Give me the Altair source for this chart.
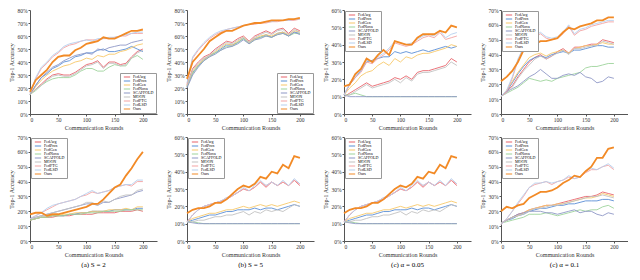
import altair as alt
import pandas as pd

ROUNDS = list(range(0, 201, 10))
METHODS = ["FedAvg", "FedProx", "FedGen", "FedNova", "SCAFFOLD", "MOON", "FedFTG", "FedLSD", "Ours"]
COLORS = ["#e8636b", "#5b8fd6", "#f7c86a", "#9ed49c", "#8e97c6", "#c2c2c2", "#f3a3a3", "#b6d0ee", "#f28a26"]
X_TICKS = [0, 50, 100, 150, 200]

# ---- top row ----
TOP_A = {
    "Ours":     [17, 26, 30, 34, 40, 44, 45, 45, 49, 51, 54, 55, 56, 59, 58, 58, 60, 62, 64, 64, 65],
    "FedLSD":   [16, 28, 36, 40, 45, 48, 52, 54, 55, 56, 57, 56, 58, 58, 59, 59, 60, 61, 62, 63, 63],
    "FedFTG":   [16, 27, 35, 39, 44, 47, 51, 53, 54, 56, 57, 57, 57, 58, 58, 59, 60, 60, 62, 62, 62],
    "SCAFFOLD": [15, 22, 28, 32, 36, 38, 41, 43, 45, 46, 47, 46, 50, 49, 51, 52, 53, 53, 55, 56, 57],
    "FedGen":   [15, 21, 26, 30, 33, 35, 37, 38, 40, 41, 43, 42, 45, 44, 46, 46, 48, 49, 51, 53, 54],
    "FedProx":  [15, 22, 28, 31, 35, 37, 40, 41, 44, 45, 47, 47, 49, 50, 48, 48, 49, 50, 52, 50, 48],
    "FedAvg":   [15, 19, 23, 27, 30, 31, 30, 30, 32, 35, 38, 39, 41, 36, 40, 40, 38, 39, 44, 48, 50],
    "MOON":     [15, 19, 22, 26, 29, 30, 29, 29, 31, 34, 37, 38, 40, 35, 39, 39, 37, 38, 43, 47, 49],
    "FedNova":  [15, 18, 22, 25, 27, 28, 28, 28, 30, 33, 35, 35, 33, 33, 36, 38, 37, 37, 43, 45, 42],
}
TOP_B = {
    "Ours":     [27, 40, 45, 50, 56, 59, 62, 64, 64, 66, 68, 69, 70, 70, 71, 72, 72, 72, 73, 73, 74],
    "FedLSD":   [24, 44, 50, 55, 59, 62, 64, 65, 66, 67, 68, 69, 70, 70, 71, 71, 72, 72, 72, 73, 73],
    "FedFTG":   [23, 43, 49, 54, 58, 61, 63, 65, 66, 67, 68, 69, 69, 70, 70, 71, 71, 72, 72, 72, 73],
    "FedAvg":   [22, 35, 40, 44, 46, 50, 53, 56, 55, 58, 60, 56, 60, 62, 64, 62, 65, 66, 62, 66, 64],
    "MOON":     [22, 34, 39, 43, 45, 49, 52, 55, 54, 57, 59, 55, 59, 61, 63, 61, 64, 65, 61, 65, 63],
    "FedGen":   [22, 33, 38, 42, 45, 48, 51, 54, 53, 56, 59, 55, 58, 60, 61, 60, 62, 63, 61, 64, 63],
    "FedProx":  [21, 32, 37, 42, 45, 47, 50, 53, 53, 55, 58, 55, 58, 59, 61, 59, 62, 63, 60, 63, 62],
    "FedNova":  [21, 31, 37, 41, 44, 47, 49, 52, 52, 55, 58, 54, 57, 59, 60, 59, 61, 62, 60, 62, 62],
    "SCAFFOLD": [20, 30, 36, 41, 44, 46, 49, 51, 52, 54, 57, 54, 57, 58, 60, 59, 61, 62, 60, 63, 61],
}
TOP_C = {
    "Ours":     [16, 17, 23, 26, 32, 30, 34, 37, 34, 42, 41, 40, 40, 44, 46, 46, 46, 48, 47, 51, 50],
    "FedLSD":   [11, 18, 22, 25, 31, 30, 33, 35, 38, 42, 41, 40, 41, 43, 45, 46, 45, 48, 44, 46, 47],
    "FedFTG":   [11, 17, 21, 24, 30, 29, 32, 34, 37, 41, 40, 39, 40, 42, 44, 45, 44, 47, 43, 44, 45],
    "FedProx":  [11, 17, 21, 25, 30, 31, 32, 33, 33, 36, 35, 36, 35, 36, 37, 36, 37, 38, 39, 38, 39],
    "FedGen":   [11, 15, 18, 22, 24, 25, 28, 30, 28, 32, 30, 33, 32, 34, 35, 35, 36, 37, 38, 40, 39],
    "FedAvg":   [10, 12, 14, 16, 18, 16, 17, 18, 19, 21, 20, 22, 20, 24, 25, 25, 26, 27, 28, 32, 30],
    "MOON":     [10, 11, 13, 15, 17, 15, 16, 17, 18, 20, 18, 21, 19, 23, 24, 24, 25, 26, 27, 30, 28],
    "FedNova":  [11, 11, 12, 11, 10, 10, 10, 10, 10, 10, 10, 10, 10, 10, 10, 10, 10, 10, 10, 10, 10],
    "SCAFFOLD": [11, 10, 10, 10, 10, 10, 10, 10, 10, 10, 10, 10, 10, 10, 10, 10, 10, 10, 10, 10, 10],
}
TOP_D = {
    "Ours":     [22, 25, 29, 35, 43, 46, 47, 49, 49, 50, 51, 55, 58, 57, 59, 60, 61, 63, 63, 65, 65],
    "FedLSD":   [12, 16, 25, 37, 45, 50, 53, 55, 52, 51, 52, 55, 60, 54, 57, 58, 60, 61, 62, 63, 63],
    "FedFTG":   [12, 15, 24, 36, 44, 49, 52, 54, 51, 50, 51, 54, 59, 53, 56, 57, 59, 60, 61, 62, 62],
    "FedAvg":   [12, 15, 19, 25, 30, 35, 38, 40, 37, 39, 42, 44, 41, 45, 45, 46, 47, 47, 50, 49, 48],
    "FedGen":   [12, 16, 22, 28, 33, 38, 40, 41, 39, 41, 42, 43, 41, 44, 45, 46, 46, 47, 48, 47, 47],
    "FedProx":  [12, 15, 21, 27, 32, 36, 38, 39, 38, 40, 41, 42, 41, 43, 43, 44, 45, 46, 46, 45, 45],
    "MOON":     [12, 14, 18, 24, 29, 33, 37, 39, 37, 39, 41, 43, 40, 44, 44, 45, 46, 46, 49, 48, 47],
    "FedNova":  [12, 14, 16, 18, 21, 24, 23, 22, 23, 22, 24, 25, 26, 27, 28, 31, 32, 32, 33, 34, 34],
    "SCAFFOLD": [12, 15, 17, 19, 22, 25, 27, 30, 27, 24, 24, 26, 27, 26, 28, 25, 24, 21, 22, 25, 24],
}

# ---- bottom row ----
BOT_A = {
    "Ours":     [18, 19, 19, 17, 18, 18, 19, 20, 21, 22, 23, 25, 25, 28, 32, 36, 38, 44, 49, 55, 60],
    "FedLSD":   [15, 17, 19, 22, 24, 25, 26, 27, 28, 30, 32, 34, 32, 33, 34, 36, 37, 38, 38, 41, 41],
    "FedFTG":   [15, 17, 19, 21, 23, 25, 26, 27, 28, 30, 31, 33, 32, 33, 34, 36, 37, 38, 37, 40, 40],
    "MOON":     [15, 16, 17, 18, 19, 20, 21, 22, 23, 24, 26, 26, 24, 27, 26, 28, 30, 31, 31, 34, 35],
    "SCAFFOLD": [15, 16, 17, 18, 19, 20, 21, 22, 23, 24, 25, 25, 24, 26, 26, 28, 29, 30, 31, 33, 34],
    "FedGen":   [14, 15, 16, 16, 17, 17, 18, 18, 19, 19, 19, 20, 20, 20, 21, 21, 21, 22, 21, 23, 23],
    "FedProx":  [14, 15, 16, 16, 17, 17, 17, 18, 18, 19, 19, 20, 20, 20, 20, 21, 21, 21, 21, 22, 22],
    "FedNova":  [14, 15, 16, 16, 17, 17, 17, 18, 18, 18, 19, 19, 19, 20, 20, 20, 20, 21, 21, 21, 21],
    "FedAvg":   [14, 15, 16, 16, 16, 17, 17, 17, 18, 18, 18, 18, 19, 19, 19, 19, 20, 20, 20, 21, 20],
}
BOT_B = {
    "Ours":     [16, 18, 19, 19, 20, 22, 22, 24, 27, 30, 32, 31, 33, 37, 36, 40, 39, 44, 42, 49, 48],
    "FedLSD":   [11, 15, 18, 20, 21, 22, 23, 25, 26, 28, 31, 29, 32, 35, 32, 34, 32, 35, 32, 36, 33],
    "FedFTG":   [11, 15, 18, 20, 21, 22, 23, 25, 26, 28, 30, 29, 31, 34, 32, 34, 32, 34, 32, 35, 33],
    "FedAvg":   [11, 15, 18, 20, 21, 22, 23, 24, 26, 28, 30, 29, 31, 34, 31, 34, 32, 34, 32, 35, 32],
    "FedGen":   [11, 13, 14, 15, 16, 16, 17, 18, 18, 19, 20, 19, 20, 21, 20, 21, 20, 21, 22, 23, 22],
    "FedProx":  [11, 12, 13, 14, 15, 15, 16, 17, 17, 18, 18, 18, 19, 18, 19, 19, 18, 19, 20, 21, 20],
    "MOON":     [11, 11, 12, 12, 13, 14, 14, 15, 15, 16, 17, 15, 17, 16, 18, 17, 18, 17, 19, 21, 20],
    "FedNova":  [11, 11, 10.5, 10, 10, 10, 10, 10, 10, 10, 10, 10, 10, 10, 10, 10, 10, 10, 10, 10, 10],
    "SCAFFOLD": [11, 10.5, 10, 10, 10, 10, 10, 10, 10, 10, 10, 10, 10, 10, 10, 10, 10, 10, 10, 10, 10],
}
BOT_C = {
    "Ours":     [16, 18, 19, 19, 20, 22, 22, 24, 27, 30, 32, 31, 33, 37, 36, 40, 39, 44, 42, 49, 48],
    "FedLSD":   [11, 15, 18, 20, 21, 22, 23, 25, 26, 28, 31, 29, 32, 35, 32, 34, 32, 35, 32, 36, 33],
    "FedFTG":   [11, 15, 18, 20, 21, 22, 23, 25, 26, 28, 30, 29, 31, 34, 32, 34, 32, 34, 32, 35, 33],
    "FedAvg":   [11, 15, 18, 20, 21, 22, 23, 24, 26, 28, 30, 29, 31, 34, 31, 34, 32, 34, 32, 35, 32],
    "FedGen":   [11, 13, 14, 15, 16, 16, 17, 18, 18, 19, 20, 19, 20, 21, 20, 21, 20, 21, 22, 23, 22],
    "FedProx":  [11, 12, 13, 14, 15, 15, 16, 17, 17, 18, 18, 18, 19, 18, 19, 19, 18, 19, 20, 21, 20],
    "MOON":     [11, 11, 12, 12, 13, 14, 14, 15, 15, 16, 17, 15, 17, 16, 18, 17, 18, 17, 19, 21, 20],
    "FedNova":  [11, 11, 10.5, 10, 10, 10, 10, 10, 10, 10, 10, 10, 10, 10, 10, 10, 10, 10, 10, 10, 10],
    "SCAFFOLD": [11, 10.5, 10, 10, 10, 10, 10, 10, 10, 10, 10, 10, 10, 10, 10, 10, 10, 10, 10, 10, 10],
}
BOT_D = {
    "Ours":     [20, 23, 22, 24, 25, 29, 31, 33, 33, 34, 36, 39, 41, 44, 43, 47, 50, 56, 56, 62, 63],
    "FedLSD":   [11, 15, 20, 26, 31, 36, 39, 39, 40, 39, 40, 41, 44, 42, 43, 47, 49, 48, 50, 52, 49],
    "FedFTG":   [11, 15, 20, 25, 30, 36, 38, 39, 40, 38, 40, 41, 43, 42, 43, 46, 48, 48, 50, 51, 48],
    "FedAvg":   [12, 14, 16, 18, 19, 21, 22, 23, 24, 24, 25, 26, 27, 28, 29, 30, 30, 31, 33, 32, 31],
    "FedGen":   [12, 14, 16, 17, 19, 21, 22, 23, 24, 24, 25, 25, 26, 27, 28, 29, 29, 30, 32, 31, 30],
    "MOON":     [12, 14, 16, 17, 18, 20, 22, 22, 23, 24, 24, 25, 26, 27, 28, 29, 30, 30, 31, 30, 29],
    "FedProx":  [12, 14, 15, 17, 18, 20, 21, 22, 22, 23, 24, 24, 25, 25, 26, 27, 27, 27, 28, 28, 27],
    "FedNova":  [12, 13, 14, 15, 16, 18, 18, 18, 19, 18, 17, 18, 19, 20, 21, 20, 21, 21, 23, 24, 22],
    "SCAFFOLD": [12, 14, 16, 18, 19, 20, 20, 20, 19, 19, 18, 19, 20, 21, 19, 20, 20, 18, 17, 19, 18],
}

CAPTIONS = ["(a)  S = 2", "(b)  S = 5", "(c)  \u03b1 = 0.05", "(c)  \u03b1 = 0.1"]
FONT = "Liberation Serif"
W, H = 127, 104


def panel(data, ymax, orient, caption=None):
    rows = []
    for m in METHODS:
        for r, v in zip(ROUNDS, data[m]):
            rows.append({"round": r, "acc": v, "method": m})
    df = pd.DataFrame(rows)
    legend = alt.Legend(
        title=None, orient=orient, offset=1, symbolType="stroke",
        symbolStrokeWidth=1.2, symbolSize=40, labelFontSize=4, labelFont=FONT,
        rowPadding=0, padding=2, strokeColor="#999999", fillColor="white",
        labelOffset=2, labelLimit=60, symbolOffset=1, clipHeight=4,
    )
    color = alt.Color("method:N", scale=alt.Scale(domain=METHODS, range=COLORS), legend=legend)
    x = alt.X("round:Q", scale=alt.Scale(domain=[0, 225], nice=False),
              axis=alt.Axis(values=X_TICKS, title="Communication Rounds"))
    y = alt.Y("acc:Q", scale=alt.Scale(domain=[0, ymax], nice=False),
              axis=alt.Axis(values=list(range(0, ymax + 1, 10)),
                            labelExpr="datum.value + '%'", title="Top-1 Accuracy"))
    base = alt.Chart(df).encode(x=x, y=y, color=color)
    others = base.transform_filter(alt.datum.method != "Ours").mark_line(strokeWidth=0.9)
    ours = base.transform_filter(alt.datum.method == "Ours").mark_line(strokeWidth=1.8)
    ch = alt.layer(others, ours).properties(width=W, height=H)
    if caption:
        ch = ch.properties(title=alt.TitleParams(caption, orient="bottom", fontSize=7,
                                                 font=FONT, fontWeight="normal", offset=3))
    return ch


top = alt.hconcat(
    panel(TOP_A, 80, "bottom-right"),
    panel(TOP_B, 80, "bottom-right"),
    panel(TOP_C, 60, "top-left"),
    panel(TOP_D, 70, "top-left"),
    spacing=8,
).resolve_scale(color="independent").resolve_legend(color="independent")

bottom = alt.hconcat(
    panel(BOT_A, 70, "top-left", CAPTIONS[0]),
    panel(BOT_B, 60, "top-left", CAPTIONS[1]),
    panel(BOT_C, 60, "top-left", CAPTIONS[2]),
    panel(BOT_D, 70, "top-left", CAPTIONS[3]),
    spacing=8,
).resolve_scale(color="independent").resolve_legend(color="independent")

chart = alt.vconcat(top, bottom, spacing=4).resolve_scale(
    color="independent").resolve_legend(color="independent").properties(
    padding=0
).configure(font=FONT).configure_view(stroke=None).configure_axis(
    labelFont=FONT, titleFont=FONT, labelFontSize=5.5, titleFontSize=6,
    titleFontWeight="normal", domainColor="#555555", tickColor="#555555",
    tickSize=2, labelPadding=1, titlePadding=2, grid=False, labelColor="#333333",
    titleColor="#333333",
)

chart.save("out.html", embed_options={"renderer": "svg", "actions": False})
